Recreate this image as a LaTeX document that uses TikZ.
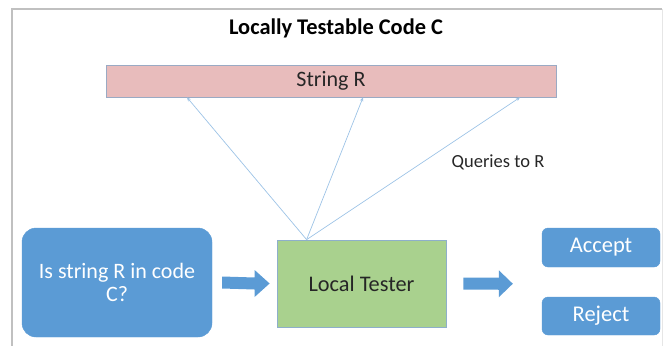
\documentclass[tikz,border=0pt]{standalone}
\usepackage{fontspec}
\setmainfont{Carlito}
\usetikzlibrary{calc,arrows.meta}
\definecolor{offblue}{HTML}{5B9BD5}
\definecolor{pinkfill}{HTML}{E8BCBC}
\definecolor{pinkedge}{HTML}{9AAAC4}
\definecolor{greenfill}{HTML}{A9D18E}
\definecolor{greenedge}{HTML}{8EAFCB}
\definecolor{qline}{HTML}{9DC3E6}
\definecolor{framegray}{HTML}{C0C0C0}
\definecolor{darktext}{HTML}{262626}
\tikzset{
  bluebox/.style={fill=offblue, draw=offblue, text=white, inner sep=0pt, align=center},
  qarrow/.style={draw=qline, line width=0.7pt, -{Stealth[length=4pt,width=3.5pt]}},
  blockarrow/.style={fill=offblue, draw=none},
}
\begin{document}
\begin{tikzpicture}[x=1pt,y=-1pt]
\useasboundingbox (0,0) rectangle (663,345);
% frame
\draw[framegray, line width=1.6pt] (12,346) -- (12,9) -- (662,9);
\draw[framegray!40, line width=1pt] (662,9) -- (662,346);
% title
\node[font=\bfseries\fontsize{22.4}{26}\selectfont, text=black] (title) at (336,28) {Locally Testable Code C};
% string R
\node[fill=pinkfill, draw=pinkedge, line width=0.8pt, minimum width=450pt, minimum height=32pt, inner sep=0pt,
      font=\fontsize{22}{26}\selectfont, text=darktext] (strR) at (331,81) {String R};
% left question box
\node[bluebox, rounded corners=14pt, minimum width=190pt, minimum height=109pt,
      font=\fontsize{22}{22.5}\selectfont] (q) at (117,282.5) {Is string R in code\\C?};
% local tester
\node[fill=greenfill, draw=greenedge, line width=0.8pt, minimum width=169pt, minimum height=87pt, inner sep=0pt,
      font=\fontsize{22.3}{26}\selectfont, text=darktext] (lt) at (361.5,283.5) {Local Tester};
% accept / reject
\node[bluebox, rounded corners=6pt, minimum width=118pt, minimum height=39pt,
      font=\fontsize{22.5}{26}\selectfont] (acc) at (601,247.5) {Accept};
\node[bluebox, rounded corners=6pt, minimum width=118pt, minimum height=38pt,
      font=\fontsize{22.5}{26}\selectfont] (rej) at (601,316) {Reject};
% queries label
\node[font=\fontsize{18.5}{22}\selectfont, text=darktext] (qlbl) at (498,162) {Queries to R};
% query arrows
\coordinate (src) at ([xshift=30pt]lt.north west);
\draw[qarrow] (src) -- ([xshift=-144pt]strR.south);
\draw[qarrow] (src) -- ([xshift=32pt]strR.south);
\draw[qarrow] (src) -- ([xshift=189pt]strR.south);
% block arrows
\coordinate (a1s) at ([xshift=10pt]q.east);
\coordinate (a1e) at ([xshift=-7pt]lt.west);
\fill[blockarrow] ($(a1s)+(0,-6)$) -- ($(a1e)+(-15,-6)$) -- ($(a1e)+(-15,-13.5)$) -- (a1e)
  -- ($(a1e)+(-15,13.5)$) -- ($(a1e)+(-15,6)$) -- ($(a1s)+(0,6)$) -- cycle;
\coordinate (a2s) at ([xshift=17pt]lt.east);
\coordinate (a2e) at ($($(acc.west)!0.5!(rej.west)$)+(-29,2)$);
\fill[blockarrow] ($(a2s)+(0,-6)$) -- ($(a2e)+(-14,-6)$) -- ($(a2e)+(-14,-13.5)$) -- (a2e)
  -- ($(a2e)+(-14,13.5)$) -- ($(a2e)+(-14,6)$) -- ($(a2s)+(0,6)$) -- cycle;
\end{tikzpicture}
\end{document}
